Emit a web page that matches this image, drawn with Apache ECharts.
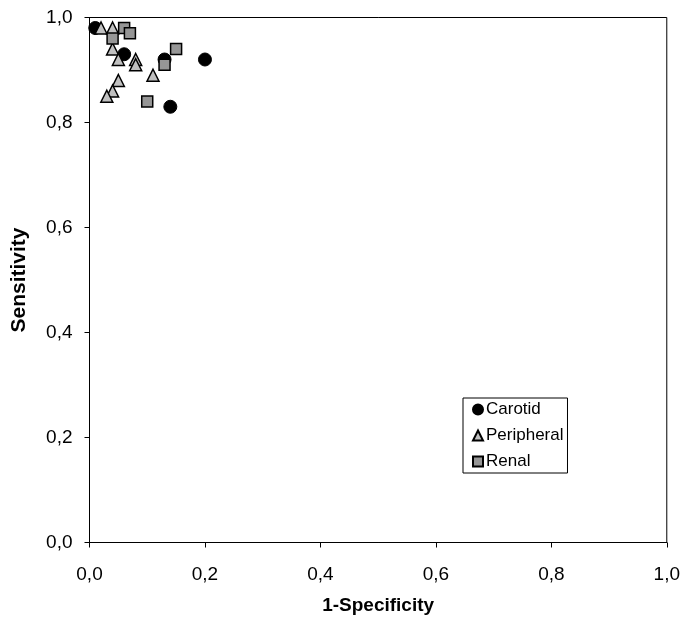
<!DOCTYPE html>
<html style="height: 100%">
<head>
    <meta charset="utf-8">
</head>
<body style="height: 100%; margin: 0; background: #fff">
<div id="container" style="width: 683px; height: 626px"></div>

<script type="text/javascript" src="https://cdn.jsdelivr.net/npm/echarts@6/dist/echarts.min.js"></script>
<script type="text/javascript">
    // [1-specificity, sensitivity]
    let carotid = [[0.01, 0.98], [0.06, 0.93], [0.13, 0.92], [0.20, 0.92], [0.14, 0.83]];
    let peripheral = [[0.02, 0.98], [0.04, 0.98], [0.04, 0.94], [0.05, 0.92], [0.08, 0.92],
        [0.08, 0.91], [0.11, 0.89], [0.05, 0.88], [0.04, 0.86], [0.03, 0.85]];
    let renal = [[0.06, 0.98], [0.07, 0.97], [0.04, 0.96], [0.15, 0.94], [0.13, 0.91], [0.10, 0.84]];
    let seriesNames = ['Carotid', 'Peripheral', 'Renal'];

    var dom = document.getElementById("container");
    var myChart = echarts.init(dom);
    var option;

    let fmt = function (v) {
        return v.toFixed(1).replace('.', ',');
    };
    let font = 'Arial, "Liberation Sans", sans-serif';

    option = {
        animation: false,
        textStyle: {fontFamily: font},
        grid: {
            left: 89.5,
            right: 16,
            top: 17.5,
            bottom: 83.5,
            show: true,
            borderColor: '#000',
            borderWidth: 1
        },
        legend: {
            orient: 'vertical',
            left: 463,
            top: 398,
            padding: [3, 4, 3, 9],
            itemGap: 9,
            itemWidth: 10,
            itemHeight: 10,
            borderColor: '#000',
            borderWidth: 1,
            textStyle: {fontSize: 17, lineHeight: 17, color: '#000', fontFamily: font, padding: [0, 0, 0, -2]},
            data: seriesNames
        },
        xAxis: {
            type: 'value',
            min: 0,
            max: 1,
            interval: 0.2,
            name: '1-Specificity',
            nameLocation: 'middle',
            nameGap: 54,
            nameTextStyle: {fontSize: 19, fontWeight: 'bold', color: '#000'},
            axisLine: {lineStyle: {color: '#000', width: 1}},
            axisTick: {show: true, length: 5, lineStyle: {color: '#000'}},
            axisLabel: {fontSize: 19, color: '#000', margin: 23, formatter: fmt},
            splitLine: {show: false}
        },
        yAxis: {
            type: 'value',
            min: 0,
            max: 1,
            interval: 0.2,
            name: 'Sensitivity',
            nameLocation: 'middle',
            nameGap: 60,
            nameTextStyle: {fontSize: 21, fontWeight: 'bold', color: '#000'},
            axisLine: {show: true, lineStyle: {color: '#000', width: 1}},
            axisTick: {show: true, length: 5, lineStyle: {color: '#000'}},
            axisLabel: {fontSize: 19, color: '#000', margin: 17, formatter: fmt},
            splitLine: {show: false}
        },
        series: [
            {
                name: seriesNames[0],
                type: 'scatter',
                symbol: 'circle',
                symbolSize: 13,
                itemStyle: {color: '#000', borderColor: '#000', borderWidth: 1, opacity: 1},
                data: carotid
            },
            {
                name: seriesNames[1],
                type: 'scatter',
                symbol: 'triangle',
                symbolSize: 12,
                itemStyle: {color: '#c0c0c0', borderColor: '#000', borderWidth: 1.5, opacity: 1},
                data: peripheral
            },
            {
                name: seriesNames[2],
                type: 'scatter',
                symbol: 'rect',
                symbolSize: 11,
                itemStyle: {color: '#969696', borderColor: '#000', borderWidth: 1.5, opacity: 1},
                data: renal
            }
        ]
    };

    if (option && typeof option === 'object') {
        myChart.setOption(option);
    }
</script>
</body>
</html>
